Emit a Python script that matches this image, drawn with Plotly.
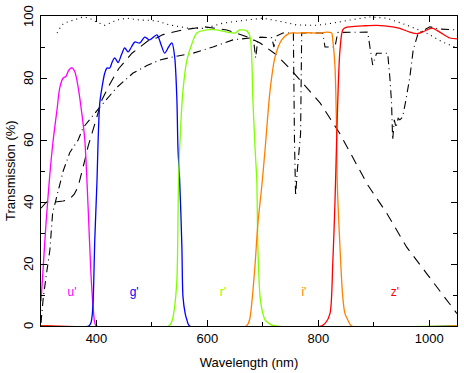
import plotly.graph_objects as go

# SDSS filter curves, wavelength in nm, transmission in %
u_wl = [300, 304, 309, 316, 322, 329, 334, 340, 345, 350, 356, 361, 367, 374, 379, 385, 390, 394, 397, 400, 1050]
u_val = [8, 19, 33, 49, 60, 70, 77, 80, 80.5, 82.5, 83.3, 82, 77, 68, 60, 38, 17, 6, 1, 0, 0]

g_wl = [300, 386, 390, 392, 394, 397, 401, 403, 406, 410, 415, 419, 424, 428, 433, 439, 445, 451, 457, 463,
        469, 478, 487, 496, 509, 516, 523, 530, 536, 541, 545, 547, 550, 554, 556, 560, 563, 568, 1050]
g_val = [0, 0, 1, 3, 8, 28, 47, 60, 72, 77, 81.6, 83.2, 83.2, 85, 86.5, 85, 87.5, 89.7, 88.4, 90,
         91.6, 91.3, 93.2, 92.3, 93.9, 91, 88, 90, 91.3, 86.8, 73, 57, 47, 25.5, 9.4, 4, 2, 0, 0]

r_wl = [300, 530, 536, 540, 545, 548, 552, 556, 563, 572, 581, 599, 617, 635, 650, 658, 671, 677, 682, 686,
        689, 691, 695, 700, 704, 712, 722, 1050]
r_val = [0, 0, 1.5, 5, 15, 47, 65, 76, 85.8, 91, 94.5, 95.5, 95.5, 94.8, 94.5, 95.5, 95.2, 93.2, 73, 57,
         47, 25.5, 9.4, 4, 2, 0.7, 0, 0]

i_wl = [300, 670, 676, 680, 686, 691, 698, 704, 713, 722, 734, 749, 761, 780, 803, 815, 824, 826, 830, 833,
        834, 839, 844, 848, 853, 860, 1050]
i_val = [0, 0, 2, 7.4, 20, 33, 45, 57, 76, 86.8, 92.3, 94.5, 94.5, 94.6, 94.5, 94.8, 94.5, 92.3, 83.6, 62,
         47, 25.5, 9.4, 4, 2, 0, 0]

z_wl = [300, 805, 813, 821, 826, 830, 833, 836, 839, 844, 850, 857, 880, 905, 934, 947, 965, 978, 990, 1005,
        1019, 1037, 1050]
z_val = [0, 0, 1, 4, 20, 40, 60, 78, 89, 95.5, 96.3, 96.5, 96.8, 97, 96.5, 96, 94.8, 94.3, 95, 96.1,
         94.8, 92.9, 92.6]

# mirror reflectivity (dotted)
mir_wl = [329, 337, 343, 352, 362, 376, 388, 401, 415, 426, 437, 455, 478, 496, 509, 532, 568, 595, 628, 671,
          700, 736, 761, 797, 826, 857, 893, 923, 959, 995, 1024, 1050]
mir_val = [94.5, 97, 97.8, 98.3, 99, 99.7, 99.2, 98, 97, 97.8, 98.7, 99.3, 98.7, 98.6, 98.4, 97.1, 96, 96, 97.7, 98.7,
           99.3, 98.1, 97.1, 97, 97.7, 98.7, 99.7, 99.3, 97.1, 94.5, 91.6, 89.7]

# CCD quantum efficiency (dashed)
ccd_wl = [300, 310, 325, 340, 352, 360, 367, 373, 379, 385, 393, 401, 410, 424, 440, 464, 478, 493, 509, 520,
          555, 595, 635, 671, 695, 725, 754, 772, 803, 839, 878, 889, 923, 959, 995, 1031, 1050]
ccd_val = [38, 40, 40, 40.3, 41, 42.5, 45, 49, 53.5, 58, 63, 68, 73, 78, 83, 88, 90, 92, 93, 94,
           95.5, 96.5, 95.5, 93.3, 91.3, 87.4, 82, 78.4, 72, 62, 49, 45.5, 36.5, 25.5, 17, 8.4, 4]

# atmosphere (dash-dot)
atm_wl = [300, 304, 310, 316, 321, 327, 334, 340, 352, 367, 376, 406, 437, 466, 491, 514, 538, 574, 610, 646,
          677, 683, 687, 691, 695, 716, 720, 724, 736, 755, 757, 759, 762, 765, 768, 770, 790, 808, 812, 815,
          830, 835, 889, 893, 898, 905, 925, 929, 932, 934, 937, 940, 944, 947, 952, 958, 965, 971, 980, 1001,
          1019, 1050]
atm_val = [1, 9, 17, 24.5, 36.5, 40.6, 46, 50, 56, 60, 64, 70.6, 77, 81.6, 84, 85.8, 86.8, 88, 90, 92.3,
           92.9, 92.5, 86.5, 92.5, 93.2, 93, 90, 93.5, 94.5, 94.5, 60, 42, 50, 56, 62, 94.5, 94.5, 94.5, 90, 90,
           90, 94.7, 94.8, 90, 84.2, 88, 88, 80, 72, 60, 66.5, 64, 67, 66.5, 67.4, 73, 80.3, 89, 94.5, 96.5,
           95.8, 95.5]

filter_names = ["u'", "g'", "r'", "i'", "z'"]
filter_colors = ["#ff00ff", "#0000ff", "#80ff00", "#ff8000", "#ff0000"]
label_wl = [356, 468, 628, 774, 938]
label_val = 10.6

y_ticks = [0, 20, 40, 60, 80, 100]

fig = go.Figure()

black = [(mir_wl, mir_val, "1px,4px"), (ccd_wl, ccd_val, "10px,7px"), (atm_wl, atm_val, "8px,4px,1px,4px")]
for wl, val, dash in black:
    fig.add_trace(go.Scatter(x=wl, y=val, mode="lines",
                             line=dict(color="black", width=1.1, dash=dash)))

curves = [(u_wl, u_val), (g_wl, g_val), (r_wl, r_val), (i_wl, i_val), (z_wl, z_val)]
for (wl, val), col in zip(curves, filter_colors):
    fig.add_trace(go.Scatter(x=wl, y=val, mode="lines",
                             line=dict(color=col, width=1.3, shape="spline", smoothing=0.8)))

fig.add_trace(go.Scatter(x=label_wl, y=[label_val] * 5, mode="text", text=filter_names,
                         textfont=dict(color=filter_colors, size=12)))

axis_common = dict(showline=True, linecolor="black", linewidth=1, mirror="allticks",
                   ticks="inside", tickcolor="black", showgrid=False, zeroline=False,
                   automargin=False, tickfont=dict(size=13, color="black"))

fig.update_xaxes(range=[300, 1050], tick0=0, dtick=200, ticklen=6,
                 minor=dict(ticks="inside", dtick=100, ticklen=4, tickcolor="black"),
                 title=dict(text="Wavelength (nm)", font=dict(size=13, color="black"), standoff=13),
                 **axis_common)
fig.update_yaxes(range=[0, 100], tickvals=y_ticks, ticklen=6, showticklabels=False,
                 minor=dict(ticks="inside", dtick=10, ticklen=4, tickcolor="black"),
                 **axis_common)

# rotated y tick labels and title
for v in y_ticks:
    fig.add_annotation(x=0, xref="paper", y=v, yref="y", text=str(v), textangle=-90,
                       showarrow=False, xanchor="center", yanchor="middle", xshift=-13,
                       font=dict(size=13, color="black"))
fig.add_annotation(x=0, xref="paper", y=0.5, yref="paper", text="Transmission (%)", textangle=-90,
                   showarrow=False, xanchor="center", yanchor="middle", xshift=-31,
                   font=dict(size=13, color="black"))

fig.update_layout(width=464, height=373, margin=dict(l=41, r=7, t=16, b=47),
                  template="simple_white",
                  paper_bgcolor="white", plot_bgcolor="white", showlegend=False,
                  font=dict(family="Liberation Sans, Arial, sans-serif", color="black"))

# the page keeps the browser's default 8px body margin otherwise
fig.write_html("out.html", config={"displayModeBar": False},
               post_script="document.body.style.margin = '0';")
